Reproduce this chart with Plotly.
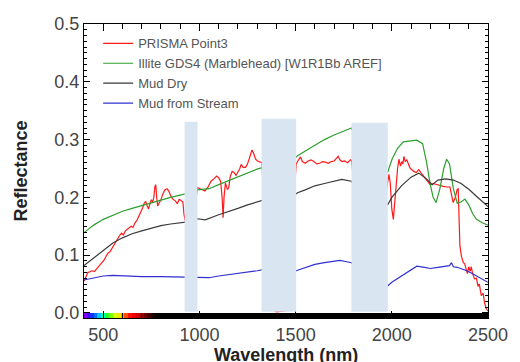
import plotly.graph_objects as go

# ---------------- data ----------------
prisma_nm = [400, 410, 420, 430, 440, 455, 470, 482, 495, 505, 515, 525, 535, 545, 555, 565, 575, 585, 595, 605,
             615, 625, 636, 645, 655, 665, 675, 687, 697, 705, 713, 721, 728, 735, 742, 750, 757, 763, 768, 773,
             778, 783, 790, 800, 810, 820, 832, 842, 852, 862, 875, 885, 895, 905, 914, 920, 950, 990, 1010, 1029,
             1045, 1060, 1075, 1089, 1100, 1110, 1118, 1123, 1128, 1135, 1145, 1152, 1160, 1170, 1180, 1190, 1200,
             1210, 1217, 1227, 1240, 1250, 1260, 1273, 1282, 1292, 1302, 1315, 1325, 1360, 1400, 1450, 1503, 1510,
             1518, 1525, 1535, 1550, 1565, 1580, 1595, 1610, 1625, 1640, 1655, 1670, 1685, 1700, 1713, 1721, 1730,
             1740, 1755, 1770, 1785, 1790, 1880, 1978, 1985, 1992, 2000, 2008, 2015, 2022, 2030, 2037, 2045, 2052,
             2058, 2063, 2070, 2078, 2085, 2093, 2100, 2114, 2127, 2140, 2153, 2166, 2180, 2200, 2215, 2234, 2250,
             2268, 2285, 2302, 2310, 2319, 2330, 2340, 2345, 2350, 2354, 2362, 2372, 2379, 2387, 2393, 2400, 2407,
             2413, 2420, 2430, 2440, 2448, 2455, 2465, 2475, 2482, 2490, 2500]
prisma_ref = [0.055, 0.062, 0.070, 0.071, 0.073, 0.072, 0.078, 0.082, 0.086, 0.092, 0.098, 0.104, 0.106, 0.112,
              0.118, 0.124, 0.128, 0.134, 0.138, 0.135, 0.142, 0.145, 0.148, 0.150, 0.148, 0.156, 0.160, 0.168,
              0.176, 0.182, 0.190, 0.193, 0.186, 0.180, 0.188, 0.196, 0.192, 0.200, 0.218, 0.222, 0.200, 0.185,
              0.190, 0.196, 0.206, 0.213, 0.215, 0.210, 0.202, 0.197, 0.194, 0.189, 0.197, 0.195, 0.192, 0.170,
              0.120, 0.217, 0.214, 0.211, 0.218, 0.228, 0.232, 0.237, 0.234, 0.228, 0.200, 0.165, 0.200, 0.225,
              0.214, 0.216, 0.236, 0.245, 0.243, 0.238, 0.244, 0.250, 0.257, 0.252, 0.252, 0.258, 0.268, 0.282,
              0.276, 0.266, 0.263, 0.262, 0.260, 0.010, 0.002, 0.004, 0.258, 0.262, 0.266, 0.270, 0.262, 0.259,
              0.263, 0.265, 0.262, 0.258, 0.259, 0.262, 0.261, 0.259, 0.262, 0.263, 0.268, 0.271, 0.265, 0.262,
              0.263, 0.260, 0.265, 0.264, 0.020, 0.225, 0.240, 0.225, 0.180, 0.162, 0.195, 0.215, 0.250, 0.266,
              0.254, 0.262, 0.258, 0.271, 0.262, 0.265, 0.257, 0.252, 0.249, 0.245, 0.243, 0.248, 0.242, 0.237,
              0.230, 0.222, 0.224, 0.222, 0.221, 0.219, 0.218, 0.218, 0.205, 0.191, 0.200, 0.214, 0.215, 0.170,
              0.116, 0.098, 0.087, 0.085, 0.072, 0.068, 0.080, 0.072, 0.080, 0.068, 0.059, 0.060, 0.046, 0.050,
              0.030, 0.034, 0.018, 0.008, 0.003]

illite_nm = [400, 450, 500, 550, 600, 650, 700, 750, 800, 850, 900, 950, 990, 1050, 1100, 1150, 1200, 1250, 1300,
             1330, 1400, 1510, 1550, 1600, 1650, 1700, 1750, 1790, 1900, 1980, 2000, 2030, 2060, 2100, 2130, 2160,
             2180, 2200, 2215, 2230, 2250, 2270, 2285, 2300, 2320, 2340, 2360, 2380, 2400, 2420, 2440, 2470, 2500]
illite_ref = [0.139, 0.152, 0.162, 0.169, 0.176, 0.181, 0.186, 0.191, 0.196, 0.200, 0.204, 0.208, 0.213, 0.215,
              0.222, 0.229, 0.236, 0.243, 0.249, 0.252, 0.240, 0.272, 0.280, 0.291, 0.300, 0.308, 0.314, 0.320,
              0.220, 0.245, 0.265, 0.285, 0.296, 0.298, 0.299, 0.293, 0.262, 0.222, 0.200, 0.191, 0.215, 0.250,
              0.266, 0.258, 0.215, 0.190, 0.192, 0.197, 0.187, 0.172, 0.162, 0.156, 0.152]

muddry_nm = [400, 450, 500, 550, 600, 650, 700, 750, 800, 850, 900, 950, 990, 1030, 1100, 1150, 1200, 1250, 1300,
             1330, 1400, 1510, 1550, 1600, 1650, 1700, 1740, 1790, 1900, 1980, 2000, 2050, 2100, 2140, 2180, 2210,
             2240, 2280, 2320, 2360, 2400, 2440, 2470, 2500]
muddry_ref = [0.082, 0.095, 0.108, 0.121, 0.130, 0.137, 0.142, 0.147, 0.151, 0.154, 0.156, 0.158, 0.163, 0.161,
              0.170, 0.175, 0.181, 0.187, 0.192, 0.195, 0.180, 0.208, 0.213, 0.220, 0.224, 0.228, 0.231, 0.228,
              0.170, 0.188, 0.200, 0.220, 0.235, 0.242, 0.232, 0.222, 0.230, 0.232, 0.230, 0.224, 0.214, 0.202,
              0.193, 0.184]

mudstream_nm = [400, 450, 500, 550, 600, 700, 800, 900, 990, 1050, 1100, 1150, 1200, 1250, 1300, 1330, 1400, 1510,
                1550, 1600, 1650, 1700, 1730, 1760, 1790, 1900, 1980, 2000, 2050, 2100, 2130, 2170, 2200, 2240,
                2280, 2300, 2310, 2320, 2340, 2360, 2390, 2420, 2460, 2500]
mudstream_ref = [0.057, 0.061, 0.064, 0.065, 0.064, 0.063, 0.063, 0.062, 0.062, 0.061, 0.064, 0.066, 0.068, 0.071,
                 0.073, 0.075, 0.060, 0.074, 0.079, 0.084, 0.087, 0.089, 0.091, 0.089, 0.087, 0.040, 0.047, 0.053,
                 0.064, 0.075, 0.081, 0.079, 0.077, 0.079, 0.081, 0.082, 0.087, 0.080, 0.079, 0.077, 0.073, 0.068,
                 0.061, 0.053]

series_names = ["PRISMA Point3", "Illite GDS4 (Marblehead) [W1R1Bb AREF]", "Mud Dry", "Mud from Stream"]

# masked (water absorption) bands: start nm, end nm, top reflectance
band_start = [923, 1323, 1790]
band_end = [990, 1503, 1979]
band_top = [0.331, 0.336, 0.329]

# visible spectrum strip along the x axis (segment edges in nm, colours)
spectrum_nm = [400, 415, 430, 450, 470, 490, 510, 530, 550, 570, 590, 610, 630, 650, 670, 690, 710, 730, 750, 770, 2500]
spectrum_col = ["#8000ff", "#4a00ff", "#1830ff", "#0070ff", "#00c8ff", "#00ffb0", "#20ff20", "#80ff00",
                "#d8ff00", "#ffe000", "#ffa000", "#ff5000", "#ff1000", "#f00000", "#d00000", "#a00000",
                "#700000", "#400000", "#1a0000", "#000000"]
strip_depth = 0.0087

# ---------------- figure ----------------
fig = go.Figure()

# spectrum strip drawn as a bar trace just below the zero line
mids = [(spectrum_nm[i] + spectrum_nm[i + 1]) / 2 for i in range(len(spectrum_col))]
widths = [spectrum_nm[i + 1] - spectrum_nm[i] for i in range(len(spectrum_col))]
fig.add_trace(go.Bar(x=mids, y=[strip_depth] * len(mids), base=[-strip_depth] * len(mids), width=widths,
                     marker=dict(color=spectrum_col, line=dict(width=0)),
                     showlegend=False, hoverinfo="skip"))

colors = ["#ff1a1a", "#2e9e2e", "#3a3a3a", "#3030d0"]
for nm, ref, name, c in zip([prisma_nm, illite_nm, muddry_nm, mudstream_nm],
                            [prisma_ref, illite_ref, muddry_ref, mudstream_ref],
                            series_names, colors):
    fig.add_trace(go.Scatter(x=nm, y=ref, mode="lines", name=name,
                             line=dict(color=c, width=1.2)))

shapes = []
for s, e, t in zip(band_start, band_end, band_top):
    shapes.append(dict(type="rect", xref="x", yref="y", x0=s, x1=e, y0=0.002, y1=t,
                       fillcolor="#dae5f2", line=dict(width=0), layer="above"))

tickfont = dict(family="Liberation Sans, Arial, sans-serif", size=18, color="#444444")
titlefont = dict(family="Liberation Sans, Arial, sans-serif", size=18, color="#222222")
fig.update_layout(
    width=520, height=362,
    margin=dict(l=84, r=28, t=24, b=44),
    plot_bgcolor="white",
    shapes=shapes,
    showlegend=True,
    bargap=0,
    legend=dict(x=0.035, y=0.985, xanchor="left", yanchor="top", bgcolor="rgba(0,0,0,0)",
                font=dict(family="Liberation Sans, Arial, sans-serif", size=13, color="#555555")),
    xaxis=dict(range=[400, 2500], dtick=500, ticks="inside", ticklen=7, tickcolor="black",
               minor=dict(ticks="inside", ticklen=5, tickcolor="black", dtick=100),
               showline=True, linecolor="black", mirror="allticks", tickfont=tickfont),
    yaxis=dict(range=[-strip_depth, 0.5], tick0=0, dtick=0.1, tickformat=".1f", ticks="inside", ticklen=6,
               tickcolor="black",
               minor=dict(ticks="inside", ticklen=3, tickcolor="black", tick0=0, dtick=0.01),
               showline=True, linecolor="black", mirror="allticks", tickfont=tickfont),
    annotations=[
        dict(text="<b>Wavelength (nm)</b>", xref="paper", yref="paper", x=0.5, y=-0.126,
             xanchor="center", yanchor="middle", showarrow=False, font=titlefont),
        dict(text="<b>Reflectance</b>", xref="paper", yref="paper", x=-0.157, y=0.5, textangle=-90,
             xanchor="center", yanchor="middle", showarrow=False, font=titlefont),
    ],
)

fig.write_html("out.html")
